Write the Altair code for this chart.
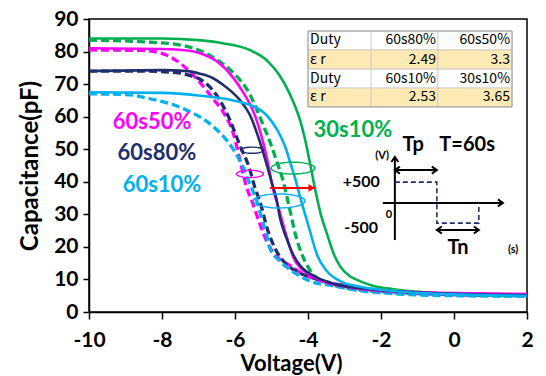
import altair as alt
import pandas as pd
import numpy as np

# ---------------- data ----------------
gs_v = [-10, -8, -7, -6.3, -5.6, -5.1, -4.8, -4.5, -4.22, -4.1, -3.95, -3.81, -3.65, -3.48, -3.3, -3.12, -2.85, -2.58, -2.2, -1.67, -1, 0, 1, 2]
gs_c = [84, 84, 83.5, 82.5, 80.5, 77, 73, 67, 59, 54, 46, 38, 30, 24, 18, 14, 11, 9.5, 8, 7, 6.2, 5.5, 5.1, 5]
gd_v = [-10, -8.5, -7.5, -7.0, -6.5, -6.05, -5.6, -5.25, -5.0, -4.85, -4.7, -4.58, -4.45, -4.36, -4.14, -3.89, -3.5, -3, -2, 0, 2]
gd_c = [83.5, 83, 82, 80.5, 77.5, 73.5, 67, 58, 51, 46, 41, 35.5, 29, 24.5, 17, 12, 9, 7.5, 6.2, 5.3, 5]
ms_v = [-10, -8, -7.3, -6.96, -6.5, -6.05, -5.75, -5.51, -5.3, -5.12, -4.96, -4.77, -4.58, -4.41, -4.2, -4.03, -3.48, -3, -2, 0, 2]
ms_c = [81, 80.8, 80.3, 79.5, 77, 72, 67, 62, 55, 47, 38, 30.5, 23, 17, 13.5, 12, 9, 7.8, 6.5, 5.8, 5.5]
md_v = [-10, -8.5, -7.9, -7.4, -7.0, -6.6, -6.3, -6.05, -5.85, -5.7, -5.5, -5.35, -5.2, -5.0, -4.75, -4.45, -4.2, -3.7, -3, -2, 0, 2]
md_c = [80.5, 80.3, 79, 75.5, 71, 65.5, 61, 55, 46, 39, 33, 28, 23.5, 19, 16, 14, 12, 9.8, 8, 6.5, 5.3, 5]
ns_v = [-10, -8, -7.3, -6.96, -6.6, -6.33, -5.86, -5.59, -5.37, -5.15, -5.0, -4.85, -4.77, -4.6, -4.4, -4.2, -3.9, -3.4, -2.5, -1, 2]
ns_c = [74, 74.3, 74, 73.2, 71.8, 69.8, 65, 60.5, 54, 46, 40, 34, 29, 23, 17.5, 14, 11.5, 9, 7.2, 6, 5.2]
nd_v = [-10, -8.5, -7.6, -7.2, -6.96, -6.5, -6.14, -5.86, -5.6, -5.45, -5.32, -5.1, -4.9, -4.7, -4.4, -4.0, -3.4, -2.5, -1, 2]
nd_c = [74, 74, 73.5, 72.5, 71.5, 66.5, 59, 51, 44, 38, 34, 25, 19.5, 16, 13, 11, 9, 7.3, 6, 5]
bs_v = [-10, -8, -7, -6.05, -5.3, -4.96, -4.75, -4.6, -4.49, -4.35, -4.22, -4.08, -3.95, -3.75, -3.48, -3.12, -2.6, -1.5, 0, 2]
bs_c = [67.5, 67.3, 66.5, 65, 62, 58, 54, 50, 46, 41, 35.5, 30, 25, 17.5, 12.5, 9.5, 7.8, 6.3, 5.4, 5]
bd_v = [-10, -9, -8.33, -7.32, -6.6, -6.05, -5.8, -5.6, -5.4, -5.25, -5.12, -5.04, -4.8, -4.49, -3.95, -3.3, -2.85, -1.5, 0, 2]
bd_c = [67, 66.8, 65.5, 62, 57, 50, 45, 39.5, 34, 28, 23, 19.5, 16, 13, 9.5, 8, 7, 5.5, 5, 4.8]

series_names = ["30s10%", "60s50%", "60s80%", "60s10%"]
series_labels = ["30s10%", "60s50%", "60s80%", "60s10%"]
label_v = [-2.77, -8.27, -8.14, -8.0]
label_c = [55.9, 58.4, 48.8, 39.0]

loop_v = [-5.53, -5.59, -4.41, -4.79]
loop_c = [49.7, 42.4, 44.2, 34.1]

shift_v = [-5.04, -3.81]
shift_c = 38.1

tbl_text = [["Duty", "60s80%", "60s50%"],
            ["\u03b5 r", "2.49", "3.3"],
            ["Duty", "60s10%", "30s10%"],
            ["\u03b5 r", "2.53", "3.65"]]

x_ticks = [-10, -8, -6, -4, -2, 0, 2]
y_ticks = [0, 10, 20, 30, 40, 50, 60, 70, 80, 90]

# ---------------- styles / layout ----------------
GREEN, MAGENTA, NAVY, LBLUE = "#00B050", "#FF00FF", "#1F2F6E", "#00B0F0"
line_colors = [GREEN, MAGENTA, NAVY, LBLUE]
text_colors = [GREEN, "#FF3CC8", NAVY, LBLUE]
FONT = "Lato"

XS = alt.Scale(domain=[-10, 2], nice=False, zero=False)
YS = alt.Scale(domain=[0, 90], nice=False, zero=False)

X_AXIS = alt.Axis(values=x_ticks, title="Voltage(V)", titleFontSize=22, titleFont=FONT,
                  titleFontWeight="bold", titlePadding=3, titleX=202, labelPadding=10, grid=False,
                  labelFontSize=21, labelFont=FONT, labelFontWeight="bold", tickSize=7,
                  labelFlush=False, labelExpr="toString(datum.value)")
Y_AXIS = alt.Axis(values=y_ticks, title="Capacitance(pF)", titleFontSize=24, titleFont=FONT,
                  titleFontWeight="bold", titlePadding=11, labelPadding=5, grid=False,
                  labelFontSize=21, labelFont=FONT, labelFontWeight="bold", tickSize=6,
                  labelExpr="toString(datum.value)")


def X(f):
    return alt.X(f, type="quantitative", scale=XS, axis=X_AXIS)


def Y(f):
    return alt.Y(f, type="quantitative", scale=YS, axis=Y_AXIS)


# ---------------- curves ----------------
curves = [
    ("30s10%", "solid", gs_v, gs_c), ("30s10%", "dashed", gd_v, gd_c),
    ("60s50%", "solid", ms_v, ms_c), ("60s50%", "dashed", md_v, md_c),
    ("60s80%", "solid", ns_v, ns_c), ("60s80%", "dashed", nd_v, nd_c),
    ("60s10%", "solid", bs_v, bs_c), ("60s10%", "dashed", bd_v, bd_c),
]
rows = []
for name, sty, vs, cs in curves:
    for i, (v, c) in enumerate(zip(vs, cs)):
        rows.append({"series": name, "style": sty, "key": name + sty, "v": v, "c": c, "i": i})
df = pd.DataFrame(rows)

color = alt.Color("series:N", scale=alt.Scale(domain=series_names, range=line_colors), legend=None)

base = alt.Chart(df)
solid = base.transform_filter(alt.datum.style == "solid").mark_line(
    strokeWidth=2.6, interpolate="monotone").encode(
    x=X("v"), y=Y("c"), color=color, detail="key:N", order="i:Q")
dashed = base.transform_filter(alt.datum.style == "dashed").mark_line(
    strokeWidth=3.3, strokeDash=[8, 4], interpolate="monotone").encode(
    x=X("v"), y=Y("c"), color=color, detail="key:N", order="i:Q")

# hysteresis loops (ellipse symbols)
t = np.linspace(0, 2 * np.pi, 28)
ell_path = "M" + "L".join(f"{np.cos(a):.3f},{0.27 * np.sin(a):.3f}" for a in t) + "Z"
loops = pd.DataFrame({"v": loop_v, "c": loop_c, "series": ["60s80%", "60s50%", "30s10%", "60s10%"],
                      "w": [23, 27, 44, 52]})
loops["size"] = loops["w"] ** 2
loop_layer = alt.Chart(loops).mark_point(shape=ell_path, filled=False, strokeWidth=1.4, opacity=1).encode(
    x=X("v"), y=Y("c"), color=color, size=alt.Size("size:Q", scale=None, legend=None))

# red shift arrow
arrow_df = pd.DataFrame({"v": [shift_v[0]], "v2": [shift_v[1]], "c": [shift_c]})
red_rule = alt.Chart(arrow_df).mark_rule(color="#FF0000", strokeWidth=2).encode(
    x=X("v"), x2="v2", y=Y("c"))
red_head = alt.Chart(arrow_df).mark_point(shape="M-1,-0.6L0,0L-1,0.6Z", filled=True, color="#FF0000",
                                          size=169, opacity=1).encode(x=X("v2"), y=Y("c"))

# series labels
lab_df = pd.DataFrame({"v": label_v, "c": label_c, "t": series_labels, "series": series_names})
lab_layer = alt.Chart(lab_df).mark_text(fontSize=22, font=FONT, fontWeight="bold").encode(
    x=X("v"), y=Y("c"), text="t:N",
    color=alt.Color("series:N", scale=alt.Scale(domain=series_names, range=text_colors), legend=None))

# ---------------- table ----------------
col_edges = [-4.0, -2.27, -0.44, 1.59]
row_edges = [86.3, 80.5, 74.6, 68.8, 63.0]
cells, texts = [], []
for r in range(4):
    for k in range(3):
        cells.append({"x": col_edges[k], "x2": col_edges[k + 1], "y": row_edges[r], "y2": row_edges[r + 1],
                      "fill": "#FDE9B4" if r % 2 == 1 else "#FFFFFF"})
        yc = (row_edges[r] + row_edges[r + 1]) / 2
        if k == 0:
            texts.append({"x": col_edges[0], "y": yc, "t": tbl_text[r][k], "al": "left"})
        else:
            texts.append({"x": col_edges[k + 1], "y": yc, "t": tbl_text[r][k], "al": "right"})
cell_df = pd.DataFrame(cells)
txt_df = pd.DataFrame(texts)
tbl_rect = alt.Chart(cell_df).mark_rect(stroke="#C8C8C8", strokeWidth=0.8).encode(
    x=X("x"), x2="x2", y=Y("y"), y2="y2", fill=alt.Fill("fill:N", scale=None))
tbl_box = alt.Chart(pd.DataFrame([{"x": col_edges[0], "x2": col_edges[-1], "y": row_edges[0], "y2": row_edges[-1]}])).mark_rect(
    fill=None, stroke="#9A9A9A", strokeWidth=1).encode(x=X("x"), x2="x2", y=Y("y"), y2="y2")
tbl_txt_l = alt.Chart(txt_df[txt_df.al == "left"]).mark_text(
    align="left", dx=2, fontSize=14, font="Noto Sans CJK JP", color="black").encode(
    x=X("x"), y=Y("y"), text="t:N")
tbl_txt_r = alt.Chart(txt_df[txt_df.al == "right"]).mark_text(
    align="right", dx=-2, fontSize=14, font="Noto Sans CJK JP", color="black").encode(
    x=X("x"), y=Y("y"), text="t:N")

# ---------------- inset waveform ----------------
ax_df = pd.DataFrame([
    {"x": -1.62, "x2": -1.62, "y": 22.1, "y2": 47.6},
    {"x": -1.95, "x2": 1.34, "y": 33.5, "y2": 33.5},
    {"x": -1.62, "x2": -0.47, "y": 43.6, "y2": 43.6},
    {"x": -0.47, "x2": 0.68, "y": 25.2, "y2": 25.2},
])
inset_axes = alt.Chart(ax_df).mark_rule(color="black", strokeWidth=2).encode(
    x=X("x"), x2="x2", y=Y("y"), y2="y2")
wave_df = pd.DataFrame({"x": [-1.62, -0.47, -0.47, 0.68, 0.68], "y": [39.9, 39.9, 27.3, 27.3, 33.5],
                        "i": [0, 1, 2, 3, 4]})
wave = alt.Chart(wave_df).mark_line(color=NAVY, strokeWidth=1.6, strokeDash=[5, 3]).encode(
    x=X("x"), y=Y("y"), order="i:Q")
heads_df = pd.DataFrame([
    {"x": -1.62, "y": 47.6, "s": "M-0.7,1L0,0L0.7,1"},
    {"x": 1.34, "y": 33.5, "s": "M-1,-0.7L0,0L-1,0.7"},
    {"x": -1.62, "y": 43.6, "s": "M1,-0.7L0,0L1,0.7"},
    {"x": -0.47, "y": 43.6, "s": "M-1,-0.7L0,0L-1,0.7"},
    {"x": -0.47, "y": 25.2, "s": "M1,-0.7L0,0L1,0.7"},
    {"x": 0.68, "y": 25.2, "s": "M-1,-0.7L0,0L-1,0.7"},
])
heads = alt.Chart(heads_df).mark_point(filled=False, color="black", strokeWidth=2, size=100, opacity=1).encode(
    x=X("x"), y=Y("y"), shape=alt.Shape("s:N", scale=None))

inset_txt_big = pd.DataFrame([
    {"x": -1.12, "y": 51.3, "t": "Tp"},
    {"x": 0.36, "y": 51.3, "t": "T=60s"},
    {"x": 0.11, "y": 19.7, "t": "Tn"},
])
inset_big = alt.Chart(inset_txt_big).mark_text(fontSize=20, font=FONT, fontWeight="bold", color="black").encode(
    x=X("x"), y=Y("y"), text="t:N")
inset_mid = alt.Chart(pd.DataFrame([
    {"x": -2.03, "y": 39.9, "t": "+500"},
    {"x": -2.08, "y": 25.8, "t": "-500"},
])).mark_text(fontSize=16, font=FONT, fontWeight="bold", color="black", align="right").encode(
    x=X("x"), y=Y("y"), text="t:N")
inset_small = alt.Chart(pd.DataFrame([
    {"x": -1.97, "y": 47.9, "t": "(V)"},
    {"x": -1.78, "y": 29.8, "t": "0"},
    {"x": 1.62, "y": 19.0, "t": "(s)"},
])).mark_text(fontSize=11, font=FONT, fontWeight="bold", color="black").encode(
    x=X("x"), y=Y("y"), text="t:N")

chart = alt.layer(
    dashed, solid, loop_layer, red_rule, red_head, lab_layer,
    tbl_rect, tbl_box, tbl_txt_l, tbl_txt_r,
    inset_axes, wave, heads, inset_big, inset_mid, inset_small,
).properties(
    width=438, height=293,
    padding={"left": 89, "top": 19, "right": 19, "bottom": 64},
    autosize=alt.AutoSizeParams(type="none"),
    background="white",
).configure_view(
    stroke="black", strokeWidth=1.5
).configure_axis(
    domainColor="black", domainWidth=1.5, tickColor="black", tickWidth=1.5,
    labelColor="black", titleColor="black"
)

chart.save("out.html", embed_options={"renderer": "svg", "actions": False})
